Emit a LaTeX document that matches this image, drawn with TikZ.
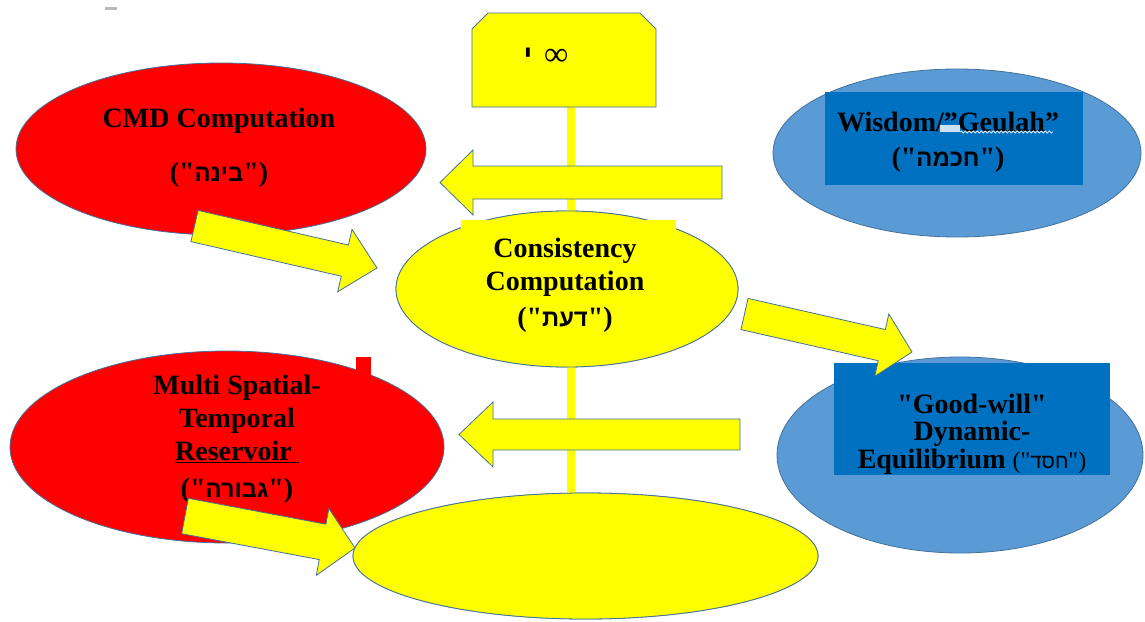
\documentclass[tikz,border=0pt]{standalone}
\usepackage{fontspec}
\setmainfont[Ligatures=TeXOff]{Liberation Serif}
\newfontfamily\hebfont[Script=Hebrew,Scale=0.85,Ligatures=TeXOff]{Liberation Sans}
\TeXXeTstate=1
\usetikzlibrary{calc,shapes.geometric,decorations.pathmorphing}
\definecolor{myred}{RGB}{255,0,0}
\definecolor{myyellow}{RGB}{255,255,0}
\definecolor{lightblue}{RGB}{91,155,213}
\definecolor{darkblue}{RGB}{0,112,192}
\definecolor{edgecol}{RGB}{65,113,156}
\newcommand\hebq[1]{("{\hebfont\beginR #1\endR}")}
\newcommand\barrow[5]{%
  \coordinate (bh) at ($(#2)!#5!(#1)$);
  \path[fatarrow] ($(#1)!#3!90:(#2)$) -- ($(bh)!#3!90:(#2)$) -- ($(bh)!#4!90:(#2)$) -- (#2)
     -- ($(bh)!#4!-90:(#2)$) -- ($(bh)!#3!-90:(#2)$) -- ($(#1)!#3!-90:(#2)$) -- cycle;}
\tikzset{
  redshape/.style={ellipse, fill=myred, draw=edgecol, line width=0.8pt, inner sep=0pt},
  blueshape/.style={ellipse, fill=lightblue, draw=edgecol, line width=0.8pt, inner sep=0pt},
  yelshape/.style={ellipse, fill=myyellow, draw=edgecol, line width=0.8pt, inner sep=0pt},
  boxshape/.style={fill=myyellow, draw=edgecol, line width=0.8pt},
  fatarrow/.style={fill=myyellow, draw=edgecol, line width=0.8pt, line join=miter},
  stem/.style={draw=myyellow, line width=8pt},
  lbl/.style={font=\bfseries\fontsize{28}{33}\selectfont, align=center, text=black, inner sep=0pt},
}
\begin{document}
\begin{tikzpicture}[x=1pt,y=-1pt]
\useasboundingbox (0,0) rectangle (1145,621);
\fill[white] (0,0) rectangle (1145,621);
\fill[gray!55] (105,7) rectangle (117,10);

% central stem
\coordinate (boxb) at (571,107);
\node[yelshape, minimum width=342pt, minimum height=156pt] (cons) at (567,289) {};
\node[yelshape, minimum width=465pt, minimum height=126pt] (bot) at (585.5,556) {};
\path[stem] (boxb) -- (boxb |- cons.north);
\path[stem] (cons.south -| boxb) -- (boxb |- bot.north);
\node[yelshape, minimum width=342pt, minimum height=156pt] (cons2) at (cons) {};
\node[yelshape, minimum width=465pt, minimum height=126pt] (bot2) at (bot) {};

% top box
\path[boxshape] (472,107) -- (472,29) -- (488,13) -- (640,13) -- (656,29) -- (656,107) -- cycle;
\node[inner sep=0pt] (boxtxt) at (546,57) {{\hebfont\bfseries\fontsize{34}{34}\selectfont\beginR י\endR}\hspace{12pt}{\fontsize{34}{34}\selectfont ∞}};

% side ellipses
\fill[myred] (356,357) rectangle (371,382);
\node[redshape, minimum width=410pt, minimum height=172pt] (cmd) at (221,149) {};
\node[redshape, minimum width=434pt, minimum height=192pt] (mst) at (227,447) {};
\node[blueshape, minimum width=368pt, minimum height=168pt] (wis) at (957,153) {};
\node[blueshape, minimum width=366pt, minimum height=196pt] (gw) at (960,455) {};

% text boxes
\fill[myyellow] (461,220) rectangle (676,262);
\fill[darkblue] (825,92) rectangle (1083,185);
\fill[darkblue] (834,363) rectangle (1110,475);
\fill[myred] (356,368) rectangle (371,382);

% texts
\node[lbl] (cmdtxt) at (219,147.5) {CMD Computation\\[21pt]\hebq{בינה}};
\node[lbl] (constxt) at (565,285) {Consistency\\Computation\\[3pt]\hebq{דעת}};
\node[lbl] (wistxt) at (948,142) {Wisdom/”Geulah”\\[2pt]\hebq{חכמה}};
\fill[white!70!lightblue] (940,125) rectangle (960,132);
\draw[white!75!lightblue, line width=0.8pt, decorate, decoration={snake, amplitude=1pt, segment length=4pt}] (960,132) -- (1053,132);
\node[lbl] (msttxt) at (237,439.5) {Multi Spatial-\\Temporal\\\underline{Reservoir~}\\[4pt]\hebq{גבורה}};
\begin{scope}
\clip (834,363) rectangle (1110,475);
\node[lbl, font=\bfseries\fontsize{28}{27.5}\selectfont] (gwtxt) at (972,434) {"Good-will"\\Dynamic-\\Equilibrium {\mdseries\fontsize{24}{27.5}\selectfont\hebq{חסד}}};
\end{scope}

% block arrows
\coordinate (a4t) at (722,182.5); \coordinate (a4p) at (440,182.5);
\coordinate (a1t) at (194.5,226); \coordinate (a1p) at (377,268);
\coordinate (a2t) at (744.5,314); \coordinate (a2p) at (912,352);
\coordinate (a5t) at (740,434.5); \coordinate (a5p) at (459,434.5);
\coordinate (a3t) at (185,516);   \coordinate (a3p) at (355,548);
\barrow{a4t}{a4p}{16.5pt}{32.5pt}{33pt}
\barrow{a1t}{a1p}{16pt}{32pt}{33pt}
\barrow{a2t}{a2p}{16pt}{32pt}{31pt}
\barrow{a5t}{a5p}{15.5pt}{32.5pt}{34pt}
\barrow{a3t}{a3p}{18pt}{34pt}{33pt}
\end{tikzpicture}
\end{document}
